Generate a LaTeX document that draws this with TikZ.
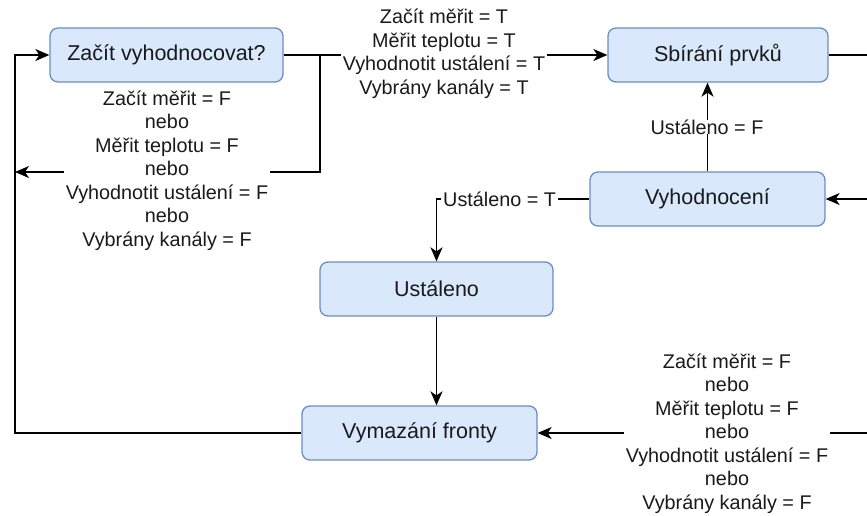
\documentclass[tikz,border=0pt]{standalone}
\usepackage{fontspec}
\setmainfont{Liberation Sans}
\usetikzlibrary{arrows.meta}

\definecolor{boxfill}{HTML}{DAE8FC}
\definecolor{boxline}{HTML}{6C8EBF}
\definecolor{textcol}{HTML}{1A1A1A}

\tikzset{
  stav/.style={draw=boxline, fill=boxfill, rounded corners=8pt, line width=1.3pt,
    minimum height=54pt, font=\fontsize{21.5}{25}\selectfont, text=textcol},
  popis/.style={fill=white, inner xsep=2pt, inner ysep=0pt, align=center,
    font=\fontsize{19.8}{23.5}\selectfont, text=textcol},
  hrana/.style={line width=1.5pt, -{Stealth[length=14pt, width=12pt, inset=4pt]}},
  cara/.style={line width=1.5pt},
}

\begin{document}
\begin{tikzpicture}[x=1pt, y=-1pt]
\useasboundingbox (0,0) rectangle (867,515);

\node[stav, minimum width=233pt] (zacit) at (166.5,55) {Začít vyhodnocovat?};
\node[stav, minimum width=220pt] (sbirani) at (718,55) {Sbírání prvků};
\node[stav, minimum width=235pt] (vyhod) at (707.5,199) {Vyhodnocení};
\node[stav, minimum width=233pt] (ustal) at (436.5,289) {Ustáleno};
\node[stav, minimum width=235pt] (vymaz) at (419.5,433) {Vymazání fronty};

\coordinate (ohyb) at (320,55);
\coordinate (vlevo) at (15,172);
\coordinate (roh) at (15,55);
\coordinate (outS) at (867,55);
\coordinate (inV) at (867,199);
\coordinate (inF) at (867,433);

% start: all T goes on, otherwise back
\draw[hrana] (zacit.east) -- (sbirani.west);
\draw[hrana] (ohyb) |- (vlevo);
\node[popis] (podminkyT) at (444,54) {Začít měřit = T\\Měřit teplotu = T\\Vyhodnotit ustálení = T\\Vybrány kanály = T};
\node[popis] (podminkyF1) at (167,170.5) {Začít měřit = F\\nebo\\Měřit teplotu = F\\nebo\\Vyhodnotit ustálení = F\\nebo\\Vybrány kanály = F};

\draw[cara] (sbirani.east) -- (outS);
\draw[hrana] (inV) -- (vyhod.east);

\draw[hrana] (vyhod.north) -- (vyhod.north |- sbirani.south);
\node[popis] (nestal) at (707,127) {Ustáleno = F};

\draw[hrana] (vyhod.west) -| (ustal.north);
\node[popis, anchor=west] (stal) at (441,199) {Ustáleno = T};

\draw[hrana] (ustal.south) -- (ustal.south |- vymaz.north);

\draw[hrana] (vymaz.west) -| (roh) -- (zacit.west);

\draw[hrana] (inF) -- (vymaz.east);
\node[popis] (podminkyF2) at (727,433.5) {Začít měřit = F\\nebo\\Měřit teplotu = F\\nebo\\Vyhodnotit ustálení = F\\nebo\\Vybrány kanály = F};
\end{tikzpicture}
\end{document}
